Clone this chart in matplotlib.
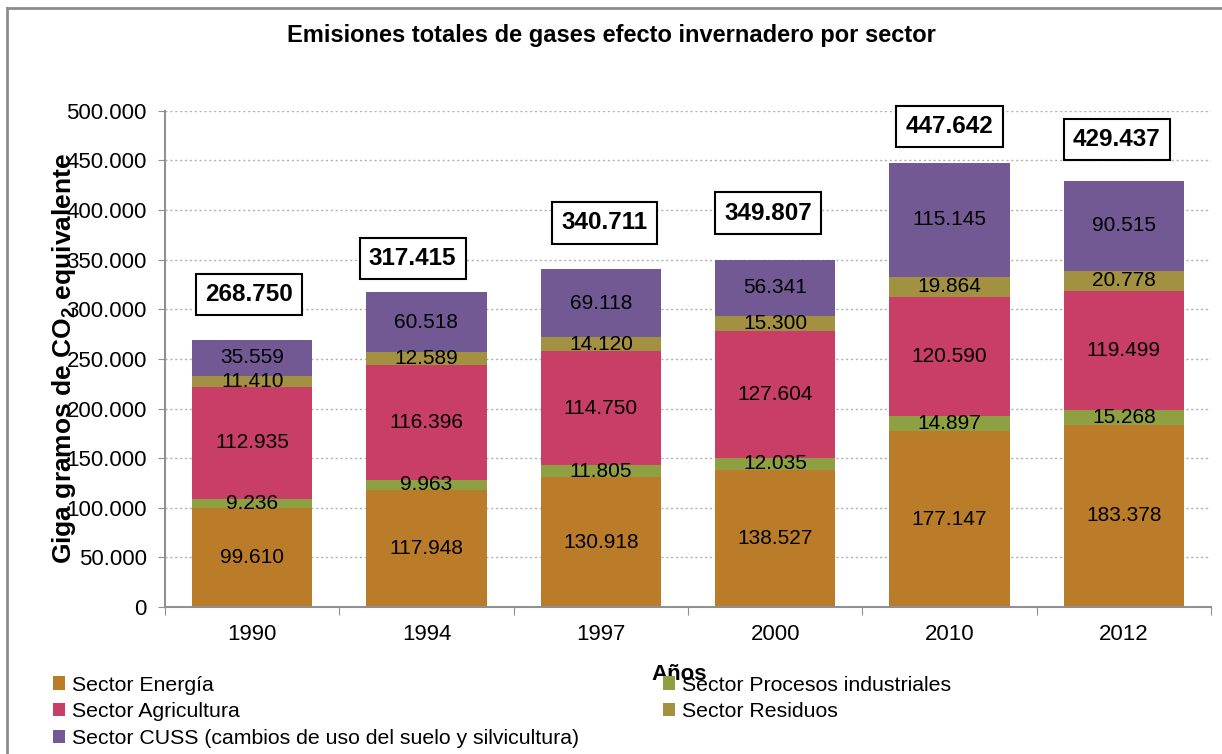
import matplotlib
matplotlib.use("Agg")
import matplotlib.pyplot as plt
from matplotlib.lines import Line2D
from matplotlib.patches import Patch
from matplotlib.ticker import FuncFormatter
import numpy as np

plt.rcParams['font.family'] = ['Liberation Sans', 'DejaVu Sans']
plt.rcParams['mathtext.fontset'] = 'custom'
plt.rcParams['mathtext.rm'] = 'Liberation Sans'
plt.rcParams['mathtext.bf'] = 'Liberation Sans:bold'

years = ['1990', '1994', '1997', '2000', '2010', '2012']
energia = [99610, 117948, 130918, 138527, 177147, 183378]
procesos = [9236, 9963, 11805, 12035, 14897, 15268]
agricultura = [112935, 116396, 114750, 127604, 120590, 119499]
residuos = [11410, 12589, 14120, 15300, 19864, 20778]
cuss = [35559, 60518, 69118, 56341, 115145, 90515]
totales = [268750, 317415, 340711, 349807, 447642, 429437]

series = [energia, procesos, agricultura, residuos, cuss]
names = ['Sector Energía', 'Sector Procesos industriales', 'Sector Agricultura',
         'Sector Residuos', 'Sector CUSS (cambios de uso del suelo y silvicultura)']
colors = ['#BA7C28', '#8EA042', '#C83E66', '#A39142', '#735994']

# where the total boxes sit (x offset in category units, y in data units)
box_dx = [-0.02, -0.08, 0.02, -0.04, 0.0, -0.04]
box_y = [315000, 351000, 387000, 397000, 484000, 471000]

def fmt(v):
    return f"{v:,.0f}".replace(",", ".")

fig = plt.figure(figsize=(12.22, 7.54), dpi=100)
ax = fig.add_axes([0.135, 0.195, 0.856, 0.658])

x = np.arange(len(years))
bottom = np.zeros(len(years))
for vals, col in zip(series, colors):
    ax.bar(x, vals, 0.69, bottom=bottom, color=col, zorder=2)
    for xi, b, v in zip(x, bottom, vals):
        ax.text(xi, b + v / 2, fmt(v), ha='center', va='center', fontsize=15,
                color='black', zorder=3)
    bottom += np.array(vals)

for xi, dx, yb, t in zip(x, box_dx, box_y, totales):
    ax.text(xi + dx, yb, fmt(t), ha='center', va='center', fontsize=17.5,
            fontweight='bold', zorder=4,
            bbox=dict(boxstyle='square,pad=0.38', fc='white', ec='black', lw=1.5))

ax.set_xlim(-0.5, len(years) - 0.5)
ax.set_ylim(0, 500000)
ax.set_yticks(np.arange(0, 500001, 50000))
ax.yaxis.set_major_formatter(FuncFormatter(lambda v, p: fmt(v)))
ax.set_xticks(np.arange(-0.5, len(years), 1.0))
ax.set_xticklabels([])
ax.set_xticks(x, minor=True)
ax.set_xticklabels(years, minor=True)
ax.tick_params(axis='x', which='minor', length=0, pad=12, labelsize=16)
ax.tick_params(axis='x', which='major', length=6, color='#909090', direction='out')
ax.tick_params(axis='y', length=5, color='#909090', labelsize=16, pad=8)
ax.grid(axis='y', linestyle=(0, (1.5, 2)), color='#B0B0B0', lw=1, zorder=0)
for s in ['top', 'right']:
    ax.spines[s].set_visible(False)
for s in ['left', 'bottom']:
    ax.spines[s].set_color('#909090')
    ax.spines[s].set_linewidth(1.5)

ax.set_ylabel('Giga gramos de CO$_\\mathbf{2}$ equivalente', fontsize=19,
              fontweight='bold')
ax.yaxis.set_label_coords(-0.083, 0.5)
fig.text(0.556, 0.106, 'Años', ha='center', va='center', fontsize=16, fontweight='bold')

fig.text(0.5, 0.953, 'Emisiones totales de gases efecto invernadero por sector',
         ha='center', va='center', fontsize=17, fontweight='bold')

handles = [Patch(facecolor=c) for c in colors]
order = [0, 2, 4, 1, 3]
leg = fig.legend([handles[i] for i in order], [names[i] for i in order],
                 loc='upper left', bbox_to_anchor=(0.043, 0.104), ncol=2,
                 frameon=False, fontsize=15.3, handlelength=0.6, handleheight=0.6,
                 handletextpad=0.3, columnspacing=3.95, labelspacing=0.36,
                 borderaxespad=0, borderpad=0)

# outer chart frame
fig.add_artist(Line2D([0.006, 1.0], [0.989, 0.989], color='#8C8C8C', lw=2,
                      transform=fig.transFigure))
fig.add_artist(Line2D([0.006, 0.006], [0.0, 0.989], color='#8C8C8C', lw=2,
                      transform=fig.transFigure))

fig.savefig('out.png', dpi=100)
